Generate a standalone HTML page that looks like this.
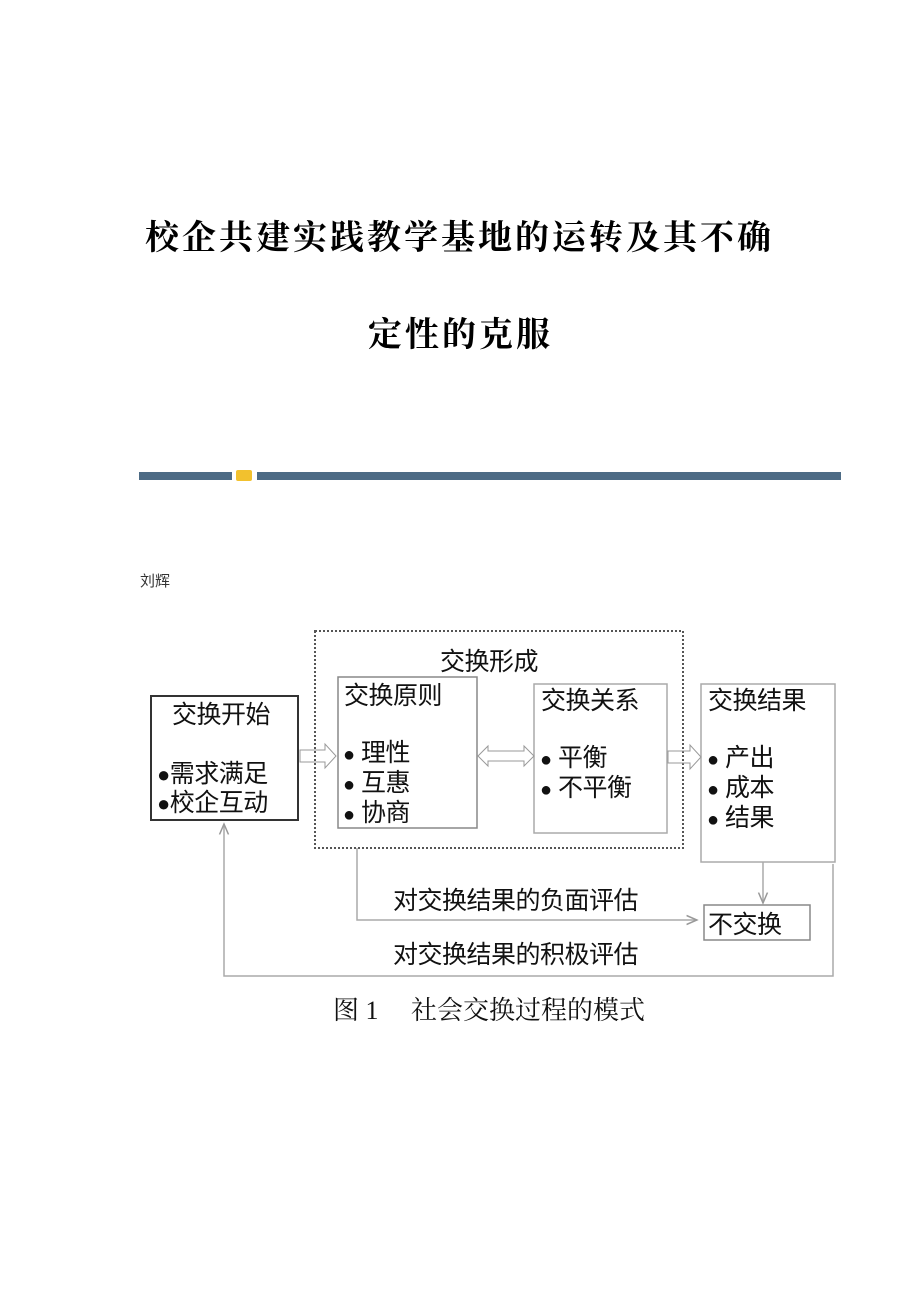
<!DOCTYPE html>
<html><head><meta charset="utf-8"><style>
body{margin:0;width:920px;height:1302px;background:#fff;position:relative;overflow:hidden;font-family:"Liberation Serif","Noto Serif CJK SC",serif;}
.t{position:absolute;white-space:nowrap;color:#000;}
</style></head><body>
<div class="t" style="left:145px;top:219px;font-size:34px;letter-spacing:3px;line-height:40px;font-weight:bold;">校企共建实践教学基地的运转及其不确</div>
<div class="t" style="left:368px;top:316px;font-size:34px;letter-spacing:3px;line-height:40px;font-weight:bold;">定性的克服</div>
<div style="position:absolute;left:139px;top:472px;width:93px;height:8px;background:#4d6b85"></div>
<div style="position:absolute;left:236px;top:470px;width:16px;height:11px;background:#f2c12e;border-radius:2px"></div>
<div style="position:absolute;left:257px;top:472px;width:584px;height:8px;background:#4d6b85"></div>
<div class="t" style="left:140px;top:570px;font-size:15px;font-family:'Liberation Sans','Noto Sans CJK SC',sans-serif;color:#333">刘辉</div>
<svg width="920" height="1302" style="position:absolute;left:0;top:0" font-family="Liberation Sans, Noto Sans CJK SC, sans-serif">
<defs><marker id="a" markerWidth="8" markerHeight="8" refX="7" refY="4" orient="auto"><path d="M0,1 L7,4 L0,7" fill="none" stroke="#999" stroke-width="1"/></marker></defs>
<rect x="315" y="631" width="368" height="217" fill="none" stroke="#555" stroke-width="2" stroke-dasharray="2,2"/>
<rect x="151" y="696" width="147" height="124" fill="none" stroke="#333" stroke-width="2"/>
<rect x="338" y="677" width="139" height="151" fill="none" stroke="#888" stroke-width="1.5"/>
<rect x="534" y="684" width="133" height="149" fill="none" stroke="#aaa" stroke-width="1.5"/>
<rect x="701" y="684" width="134" height="178" fill="none" stroke="#aaa" stroke-width="1.5"/>
<rect x="704" y="905" width="106" height="35" fill="none" stroke="#888" stroke-width="1.5"/>
<g fill="none" stroke="#999" stroke-width="1">
<path d="M300,750 H325 V744 L336,756 L325,768 V762 H300 Z"/>
<path d="M478,756 L488,746 V751 H524 V746 L534,756 L524,766 V761 H488 V766 Z"/>
<path d="M668,751 H690 V745 L701,757 L690,769 V763 H668 Z"/>
</g>
<g fill="none" stroke="#aaa" stroke-width="1.5">
<path d="M357,848 V920 H697" marker-end="url(#a)"/>
<path d="M763,862 V903" marker-end="url(#a)"/>
<path d="M833,864 V976 H224 V824" marker-end="url(#a)"/>
</g>
<g font-size="25" fill="#111" letter-spacing="-0.5">
<text x="440" y="670">交换形成</text>
<text x="172" y="723">交换开始</text>
<text x="157" y="782"><tspan font-size="22">●</tspan>需求满足</text>
<text x="157" y="811"><tspan font-size="22">●</tspan>校企互动</text>
<text x="344" y="704">交换原则</text>
<text x="343" y="761"><tspan font-size="20">●</tspan>  理性</text>
<text x="343" y="791"><tspan font-size="20">●</tspan>  互惠</text>
<text x="343" y="821"><tspan font-size="20">●</tspan>  协商</text>
<text x="541" y="709">交换关系</text>
<text x="540" y="766"><tspan font-size="20">●</tspan>  平衡</text>
<text x="540" y="796"><tspan font-size="20">●</tspan>  不平衡</text>
<text x="708" y="709">交换结果</text>
<text x="707" y="766"><tspan font-size="20">●</tspan>  产出</text>
<text x="707" y="796"><tspan font-size="20">●</tspan>  成本</text>
<text x="707" y="826"><tspan font-size="20">●</tspan>  结果</text>
<text x="708" y="933">不交换</text>
<text x="393" y="909">对交换结果的负面评估</text>
<text x="393" y="963">对交换结果的积极评估</text>
</g>
<text x="333" y="1019" font-size="26" font-family="Liberation Serif, Noto Serif CJK SC, serif" fill="#111">图 1　 社会交换过程的模式</text>
</svg>
</body></html>
